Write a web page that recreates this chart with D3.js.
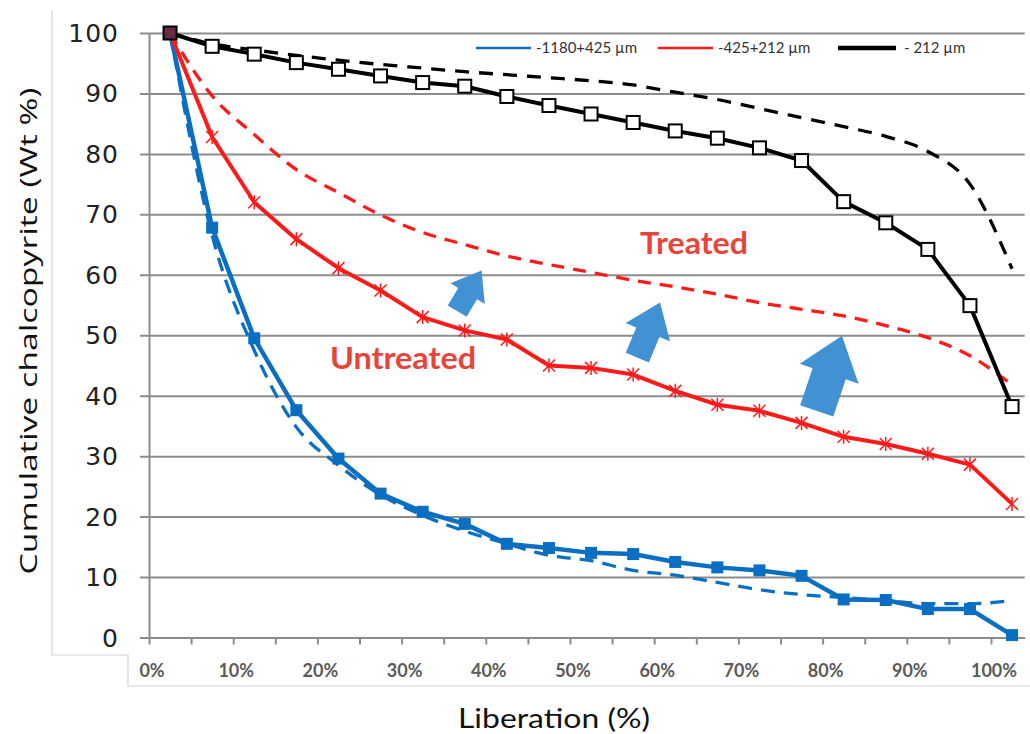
<!DOCTYPE html>
<html>
<head>
<meta charset="utf-8">
<script src="https://cdn.jsdelivr.net/npm/d3@7/dist/d3.min.js"></script>
<style>
  body { margin: 0; background: #fff; }
  svg { display: block; }
</style>
</head>
<body>
<svg id="chart" width="1030" height="734"></svg>
<script>
// liberation classes (% on x), one value per class
var liberation = [2.5, 7.5, 12.5, 17.5, 22.5, 27.5, 32.5, 37.5, 42.5, 47.5, 52.5,
  57.5, 62.5, 67.5, 72.5, 77.5, 82.5, 87.5, 92.5, 97.5, 102.5];

var xTicks = [0, 5, 10, 15, 20, 25, 30, 35, 40, 45, 50, 55, 60, 65, 70, 75, 80, 85, 90, 95, 100];
var xLabels = [0, 10, 20, 30, 40, 50, 60, 70, 80, 90, 100];
var yTicks = [0, 10, 20, 30, 40, 50, 60, 70, 80, 90, 100];

// untreated = solid with markers, treated = dashed
var coarseUntreated = [100, 67.8, 49.5, 37.6, 29.6, 23.8, 20.8, 18.8, 15.5, 14.8, 14.0,
  13.8, 12.5, 11.6, 11.1, 10.2, 6.3, 6.2, 4.7, 4.7, 0.4];
var coarseTreated = [100, 66.5, 47.5, 34.8, 28.5, 23.6, 20.2, 17.6, 15.5, 13.6, 12.7,
  11.1, 10.3, 9.1, 7.9, 7.1, 6.6, 6.1, 5.6, 5.6, 6.1];

var mediumUntreated = [100, 82.8, 72.0, 65.9, 61.1, 57.4, 53.0, 50.8, 49.3, 45.0, 44.6,
  43.5, 40.8, 38.5, 37.5, 35.5, 33.2, 32.0, 30.4, 28.6, 22.1];
var mediumTreated = [100, 89.6, 83.2, 77.4, 73.6, 69.9, 67.0, 65.0, 63.1, 61.7, 60.4,
  59.1, 58.0, 56.8, 55.4, 54.3, 53.2, 51.6, 49.6, 46.6, 41.8];

var fineUntreated = [100, 97.8, 96.5, 95.1, 94.0, 92.9, 91.8, 91.2, 89.5, 88.0, 86.6,
  85.2, 83.8, 82.6, 81.0, 78.9, 72.1, 68.6, 64.2, 54.9, 38.2];
var fineTreated = [100, 98.2, 97.2, 96.3, 95.5, 94.8, 94.2, 93.6, 93.1, 92.6, 92.1,
  91.4, 90.2, 89.0, 87.5, 86.0, 84.5, 82.9, 80.4, 75.0, 61.0];

var legendNames = ["-1180+425 \u00b5m", "-425+212 \u00b5m", "- 212 \u00b5m"];

var svg = d3.select("#chart");

var x = d3.scaleLinear().domain([0, 104]).range([149, 149 + 104 * 8.42]);
var y = d3.scaleLinear().domain([0, 100]).range([637.5, 33]);

var BLUE = "#0a6fc2", RED = "#ff1a1a", BLACK = "#000", GRID = "#8c8c8c";

// frame left over from the pasted picture
svg.append("path")
  .attr("d", "M52,10V655H128V686H1030")
  .attr("fill", "none").attr("stroke", "#d4d4d4").attr("stroke-width", 1.2);

// horizontal gridlines + y axis
var yAxis = d3.axisLeft(y).tickValues(yTicks)
  .tickSize(-(x(104) - x(0)) ).tickSizeOuter(0).tickPadding(0).tickFormat("");
svg.append("g").attr("transform", "translate(" + x(0) + ",0)").call(yAxis)
  .call(function(g) {
    g.select(".domain").attr("stroke", GRID).attr("stroke-width", 2);
    g.selectAll(".tick line").attr("stroke", GRID).attr("stroke-width", 2).attr("x1", -9);
  });

svg.append("g").selectAll("text").data(yTicks).enter().append("text")
  .attr("x", 119).attr("y", function(d) { return y(d) + 9; })
  .attr("text-anchor", "end")
  .style("font-family", "DejaVu Sans").style("font-size", "25px")
  .style("letter-spacing", "1px").attr("fill", "#222")
  .text(function(d) { return d; });

// x axis, ticks every 5 %, labels every 10 %
var xAxis = d3.axisBottom(x).tickValues(xTicks).tickSize(7).tickSizeOuter(0).tickFormat("");
svg.append("g").attr("transform", "translate(0," + y(0) + ")").call(xAxis)
  .call(function(g) {
    g.select(".domain").attr("stroke", GRID).attr("stroke-width", 2.2);
    g.selectAll(".tick line").attr("stroke", GRID).attr("stroke-width", 2);
  });

svg.append("g").selectAll("text").data(xLabels).enter().append("text")
  .attr("x", function(d) { return x(d) + 3; }).attr("y", 677)
  .attr("text-anchor", "middle")
  .style("font-family", "Lato").style("font-size", "18px").style("font-weight", "bold")
  .attr("fill", "#5a5a5a")
  .text(function(d) { return d + "%"; });

// axis titles
svg.append("text")
  .attr("transform", "translate(37,331) rotate(-90)")
  .attr("text-anchor", "middle")
  .attr("textLength", 487).attr("lengthAdjust", "spacingAndGlyphs")
  .style("font-family", "Open Sans").style("font-size", "23px").attr("fill", "#111")
  .text("Cumulative chalcopyrite (Wt %)");

svg.append("text")
  .attr("x", 554).attr("y", 728).attr("text-anchor", "middle")
  .attr("textLength", 192).attr("lengthAdjust", "spacingAndGlyphs")
  .style("font-family", "Lato").style("font-size", "26px").attr("fill", "#111")
  .text("Liberation (%)");

function pts(vals) {
  return vals.map(function(v, i) { return [liberation[i], v]; });
}

function drawLine(vals, color, width, dash, curve) {
  var line = d3.line()
    .x(function(d) { return x(d[0]); })
    .y(function(d) { return y(d[1]); })
    .curve(curve || d3.curveLinear);
  svg.append("path").datum(pts(vals))
    .attr("d", line)
    .attr("fill", "none").attr("stroke", color).attr("stroke-width", width)
    .attr("stroke-dasharray", dash || null)
    .attr("stroke-linejoin", "round");
}

// treated (dashed, smoothed)
drawLine(coarseTreated, BLUE, 3.3, "14,9", d3.curveMonotoneX);
drawLine(mediumTreated, RED, 3.3, "13,9", d3.curveMonotoneX);
drawLine(fineTreated, BLACK, 3.3, "14,10", d3.curveMonotoneX);

// untreated (solid with markers)
drawLine(coarseUntreated, BLUE, 4.5);
svg.append("g").selectAll("rect").data(pts(coarseUntreated)).enter().append("rect")
  .attr("x", function(d) { return x(d[0]) - 6; })
  .attr("y", function(d) { return y(d[1]) - 6; })
  .attr("width", 12).attr("height", 12).attr("fill", BLUE);

drawLine(mediumUntreated, RED, 4);
svg.append("g").selectAll("path").data(pts(mediumUntreated)).enter().append("path")
  .attr("transform", function(d) { return "translate(" + x(d[0]) + "," + y(d[1]) + ")"; })
  .attr("d", "M-6,-6L6,6M-6,6L6,-6M0,-7V7")
  .attr("stroke", RED).attr("stroke-width", 1.5).attr("fill", "none");

drawLine(fineUntreated, BLACK, 4);
svg.append("g").selectAll("rect").data(pts(fineUntreated)).enter().append("rect")
  .attr("x", function(d) { return x(d[0]) - 6.5; })
  .attr("y", function(d) { return y(d[1]) - 6.5; })
  .attr("width", 13).attr("height", 13)
  .attr("fill", function(d, i) { return i === 0 ? "#6b2a4a" : "#fff"; })
  .attr("stroke", BLACK).attr("stroke-width", 2);

// block arrows (tail and tip in chart units)
var arrows = [
  { tail: [36.6, 54.0], tip: [39.5, 60.7], headLen: 27, head: 40, shaft: 22 },
  { tail: [58.0, 46.3], tip: [60.7, 55.4], headLen: 32, head: 48, shaft: 25 },
  { tail: [79.3, 37.5], tip: [82.3, 49.9], headLen: 40, head: 62, shaft: 35 }
];

arrows.forEach(function(a) {
  var x0 = x(a.tail[0]), y0 = y(a.tail[1]);
  var x1 = x(a.tip[0]), y1 = y(a.tip[1]);
  var L = Math.sqrt((x1 - x0) * (x1 - x0) + (y1 - y0) * (y1 - y0));
  var ux = (x1 - x0) / L, uy = (y1 - y0) / L;
  var nx = -uy, ny = ux;
  var bx = x1 - ux * a.headLen, by = y1 - uy * a.headLen;
  var s = a.shaft / 2, h = a.head / 2;
  var p = [
    [x0 + nx * s, y0 + ny * s],
    [bx + nx * s, by + ny * s],
    [bx + nx * h, by + ny * h],
    [x1, y1],
    [bx - nx * h, by - ny * h],
    [bx - nx * s, by - ny * s],
    [x0 - nx * s, y0 - ny * s]
  ];
  svg.append("path").attr("d", "M" + p.join("L") + "Z").attr("fill", "#4291d3");
});

// labels
svg.append("text").attr("x", 694).attr("y", 254).attr("text-anchor", "middle")
  .attr("textLength", 108).attr("lengthAdjust", "spacingAndGlyphs")
  .style("font-family", "Lato").style("font-size", "31px").style("font-weight", "bold")
  .attr("fill", "#e8443b").text("Treated");

svg.append("text").attr("x", 403).attr("y", 369).attr("text-anchor", "middle")
  .attr("textLength", 146).attr("lengthAdjust", "spacingAndGlyphs")
  .style("font-family", "Lato").style("font-size", "31px").style("font-weight", "bold")
  .attr("fill", "#e8443b").text("Untreated");

// legend
var legendColors = [BLUE, RED, BLACK];
var legendX = [476, 658, 838];
var legendLen = [55, 55, 58];
var legendW = [2.5, 2.5, 4.5];
legendNames.forEach(function(name, i) {
  svg.append("line")
    .attr("x1", legendX[i]).attr("x2", legendX[i] + legendLen[i])
    .attr("y1", 48).attr("y2", 48)
    .attr("stroke", legendColors[i]).attr("stroke-width", legendW[i]);
  svg.append("text")
    .attr("x", legendX[i] + legendLen[i] + (i === 2 ? 8 : 5)).attr("y", 53)
    .style("font-family", "Lato").style("font-size", "15px").attr("fill", "#333")
    .text(name);
});
</script>
</body>
</html>
